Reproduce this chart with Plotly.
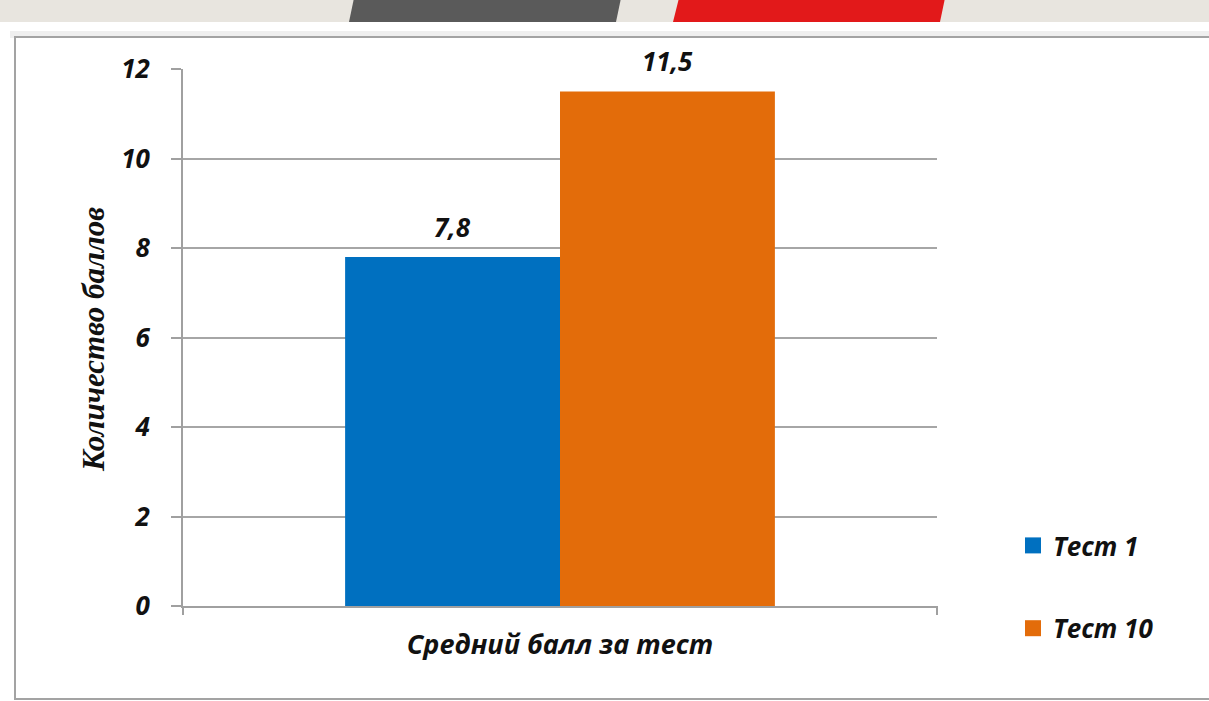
import plotly.graph_objects as go

# ---- data ----
categories = ["Средний балл за тест"]
series_names = ["Тест 1", "Тест 10"]
test1_values = [7.8]
test10_values = [11.5]
series_colors = ["#0070c0", "#e36c0a"]
y_title = "Количество баллов"
y_ticks = [0, 2, 4, 6, 8, 10, 12]

W, H = 1209, 701
L, R, T, B = 183, 272, 69, 95
PW, PH = W - L - R, H - T - B
BARGAP = 0.43


def px(x):
    return (x - L) / PW


def py(y):
    return (H - B - y) / PH


sans = "Open Sans"
serif = "Liberation Serif"
FS = 26

fig = go.Figure()
all_vals = [test1_values, test10_values]
for name, vals, col in zip(series_names, all_vals, series_colors):
    fig.add_trace(go.Bar(
        x=categories, y=vals, name=name, marker_color=col,
        marker_line_width=0, showlegend=False,
    ))

# legend entries (square swatches)
for i, (name, col) in enumerate(zip(series_names, series_colors)):
    fig.add_trace(go.Scatter(
        x=[None], y=[None], mode="markers", name=f"<b><i>{name}</i></b>",
        marker=dict(symbol="square", size=17, color=col),
        legendgroup=f"g{i}", showlegend=True,
    ))

annotations = []
# value labels above bars (positions via category index and bar offset)
n = len(series_names)
bw = (1 - BARGAP) / n
for j, vals in enumerate(all_vals):
    for i, v in enumerate(vals):
        annotations.append(dict(
            x=i - (1 - BARGAP) / 2 + bw * (j + 0.5), y=v, xref="x", yref="y",
            text="<b><i>" + f"{v:.1f}".replace(".", ",") + "</i></b>",
            showarrow=False, yanchor="bottom", xanchor="center", yshift=10,
            font=dict(family=sans, size=FS, color="#111111")))
annotations.append(dict(text=f"<b><i>{y_title}</i></b>", textangle=-90, xref="paper", yref="paper",
                        x=px(93), y=py(340), xanchor="center", yanchor="middle", showarrow=False,
                        font=dict(family=serif, size=31, color="#111111")))

shapes = []
# top decorative strip
shapes.append(dict(type="rect", xref="paper", yref="paper", x0=px(-2), x1=px(W + 2), y0=py(-2), y1=py(22),
                   fillcolor="#e8e5df", line_width=0, layer="below"))
shapes.append(dict(type="path", xref="paper", yref="paper",
                   path=f"M {px(354)},{py(-2)} L {px(621)},{py(-2)} L {px(616)},{py(22)} L {px(349)},{py(22)} Z",
                   fillcolor="#5a5a5a", line_width=0, layer="below"))
shapes.append(dict(type="path", xref="paper", yref="paper",
                   path=f"M {px(679)},{py(-2)} L {px(945)},{py(-2)} L {px(940)},{py(22)} L {px(673)},{py(22)} Z",
                   fillcolor="#e2191a", line_width=0, layer="below"))
# box shadow + box
shapes.append(dict(type="rect", xref="paper", yref="paper", x0=px(10), x1=px(W + 5), y0=py(31), y1=py(38),
                   fillcolor="#efefef", line_width=0, layer="below"))
shapes.append(dict(type="rect", xref="paper", yref="paper", x0=px(15), x1=px(W + 5), y0=py(37), y1=py(699),
                   fillcolor="white", line=dict(color="#a3a3a3", width=2), layer="below"))
# tick marks below the category axis at its ends
for xp in (0, 1):
    shapes.append(dict(type="line", xref="paper", yref="paper", x0=xp, x1=xp, y0=0, y1=py(615),
                       line=dict(color="#a0a0a0", width=2)))

fig.update_layout(
    width=W, height=H,
    margin=dict(l=L, r=R, t=T, b=B, autoexpand=False),
    paper_bgcolor="white", plot_bgcolor="white",
    barmode="group", bargap=BARGAP, bargroupgap=0,
    separators=", ",
    shapes=shapes,
    annotations=annotations,
    showlegend=True,
    legend=dict(x=px(1013), y=py(522), xanchor="left", yanchor="top",
                font=dict(family=sans, size=FS, color="#111111"),
                tracegroupgap=46, bgcolor="rgba(0,0,0,0)"),
    xaxis=dict(type="category", showline=True, linecolor="#a0a0a0", linewidth=2,
               showgrid=False, ticks="", ticklabelstandoff=14,
               tickfont=dict(family=sans, size=27, color="#111111"),
               tickvals=categories, ticktext=[f"<b><i>{c}</i></b>" for c in categories]),
    yaxis=dict(range=[0, 12], tickvals=y_ticks,
               ticktext=[f"<b><i>{v}</i></b>" for v in y_ticks],
               showline=True, linecolor="#a0a0a0", linewidth=2,
               ticks="outside", ticklen=10, tickcolor="#a0a0a0", tickwidth=2,
               showgrid=True, gridcolor="#a6a6a6", gridwidth=2, zeroline=False,
               ticklabelstandoff=16,
               tickfont=dict(family=sans, size=FS, color="#111111")),
)

fig.write_html("out.html", config={"displayModeBar": False},
               post_script="document.body.style.margin='0';document.body.style.padding='0';"
                           "document.body.style.overflow='hidden';")
